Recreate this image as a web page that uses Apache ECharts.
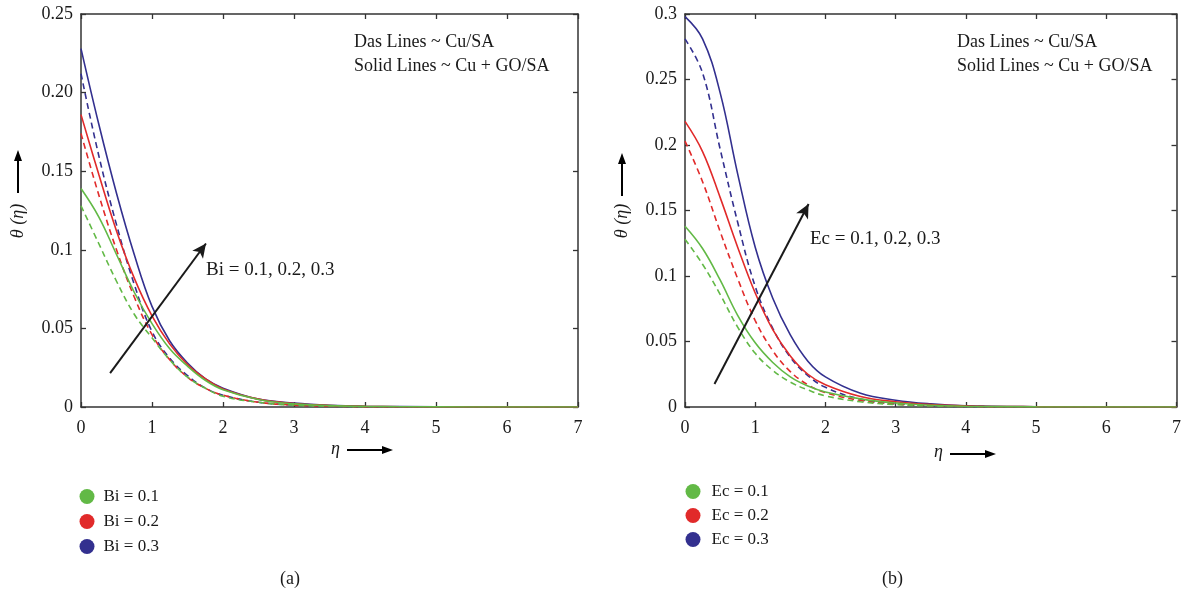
<!DOCTYPE html>
<html><head><meta charset="utf-8">
<script src="https://cdn.jsdelivr.net/npm/echarts@6/dist/echarts.min.js"></script>
<style>html,body{margin:0;padding:0;background:#fff}#c{width:1184px;height:594px}</style>
</head><body><div id="c"></div>
<script>
const eta = [0, 0.25, 0.5, 0.75, 1.0, 1.25, 1.5, 1.75, 2, 2.5, 3, 3.5, 4, 5, 6, 7];
const xTicks = ['0','1','2','3','4','5','6','7'];
const yTicksA = ['0','0.05','0.1','0.15','0.20','0.25'];
const yTicksB = ['0','0.05','0.1','0.15','0.2','0.25','0.3'];
const namesA = ['Bi = 0.1','Bi = 0.2','Bi = 0.3'];
const namesB = ['Ec = 0.1','Ec = 0.2','Ec = 0.3'];
// Panel (a): solid = Cu + GO/SA, dashed = Cu/SA
const aSolid1 = [0.139, 0.121, 0.097, 0.073, 0.053, 0.037, 0.026, 0.017, 0.011, 0.0048, 0.002, 0.0009, 0.0004, 0.0001, 0, 0];
const aSolid2 = [0.186, 0.148, 0.112, 0.082, 0.058, 0.040, 0.027, 0.018, 0.0115, 0.005, 0.0022, 0.001, 0.0004, 0.0001, 0, 0];
const aSolid3 = [0.228, 0.180, 0.136, 0.097, 0.064, 0.042, 0.028, 0.018, 0.012, 0.005, 0.0025, 0.0011, 0.0005, 0.0001, 0, 0];
const aDash1 = [0.128, 0.104, 0.080, 0.059, 0.044, 0.030, 0.019, 0.012, 0.0068, 0.003, 0.0012, 0.0005, 0.0002, 0, 0, 0];
const aDash2 = [0.174, 0.135, 0.100, 0.070, 0.046, 0.030, 0.019, 0.012, 0.0075, 0.003, 0.0012, 0.0005, 0.0002, 0, 0, 0];
const aDash3 = [0.212, 0.160, 0.116, 0.078, 0.048, 0.031, 0.020, 0.012, 0.0075, 0.003, 0.0012, 0.0005, 0.0002, 0, 0, 0];
// Panel (b)
const bSolid1 = [0.138, 0.121, 0.097, 0.070, 0.049, 0.034, 0.023, 0.016, 0.0115, 0.0062, 0.003, 0.0013, 0.0006, 0.0001, 0, 0];
const bSolid2 = [0.218, 0.195, 0.160, 0.122, 0.087, 0.059, 0.039, 0.025, 0.017, 0.008, 0.004, 0.0018, 0.0008, 0.0002, 0, 0];
const bSolid3 = [0.298, 0.281, 0.240, 0.178, 0.122, 0.083, 0.055, 0.035, 0.023, 0.0105, 0.0052, 0.0024, 0.001, 0.0002, 0, 0];
const bDash1 = [0.128, 0.109, 0.086, 0.061, 0.041, 0.028, 0.019, 0.013, 0.0085, 0.004, 0.0018, 0.0008, 0.0003, 0.0001, 0, 0];
const bDash2 = [0.203, 0.172, 0.134, 0.098, 0.066, 0.043, 0.027, 0.017, 0.011, 0.005, 0.0022, 0.001, 0.0004, 0.0001, 0, 0];
const bDash3 = [0.281, 0.255, 0.197, 0.141, 0.092, 0.060, 0.038, 0.024, 0.015, 0.006, 0.0025, 0.001, 0.0004, 0.0001, 0, 0];
const colors = ['#62b946', '#e12a2a', '#33308f'];
const arrowA = [[0.41, 0.0216], [1.76, 0.104]];
const arrowB = [[0.42, 0.0176], [1.76, 0.155]];

const FONT = 'Liberation Serif';
const FS = 17;
const pair = v => v.map((y, i) => [eta[i], y]);
function mk(name, vals, color, dashed, gi, extra) {
  const s = {
    name, type: 'line', data: pair(vals), xAxisIndex: gi * 2, yAxisIndex: gi * 2,
    showSymbol: false, symbol: 'none', smooth: 0.4,
    lineStyle: { color, width: 1.6, type: dashed ? [6, 4] : 'solid' },
    itemStyle: { color }, silent: true, animation: false, z: dashed ? 2 : 3
  };
  return Object.assign(s, extra || {});
}
function arrowLine(a) {
  return { markLine: { silent: true, symbol: ['none', 'arrow'], symbolSize: [10, 14], animation: false,
    label: { show: false }, lineStyle: { color: '#1a1a1a', width: 2, type: 'solid' },
    data: [[{ coord: a[0] }, { coord: a[1] }]] } };
}
const series = [
  mk(namesA[2], aDash3, colors[2], true, 0), mk(namesA[1], aDash2, colors[1], true, 0), mk(namesA[0], aDash1, colors[0], true, 0),
  mk(namesA[2], aSolid3, colors[2], false, 0), mk(namesA[1], aSolid2, colors[1], false, 0), mk(namesA[0], aSolid1, colors[0], false, 0, arrowLine(arrowA)),
  mk(namesB[2], bDash3, colors[2], true, 1), mk(namesB[1], bDash2, colors[1], true, 1), mk(namesB[0], bDash1, colors[0], true, 1),
  mk(namesB[2], bSolid3, colors[2], false, 1), mk(namesB[1], bSolid2, colors[1], false, 1), mk(namesB[0], bSolid1, colors[0], false, 1, arrowLine(arrowB))
];
const axLine = { show: true, onZero: false, lineStyle: { color: '#333', width: 1.5 } };
const tick = { show: true, inside: true, length: 5, lineStyle: { color: '#333', width: 1.3 } };
const lbl = { color: '#1a1a1a', fontFamily: FONT, fontSize: 18 };
function xAx(gi, top) {
  return { type: 'value', gridIndex: gi, min: 0, max: 7, interval: 1, position: top ? 'top' : 'bottom',
    axisLine: axLine, axisTick: tick, splitLine: { show: false },
    axisLabel: top ? { show: false } : Object.assign({ margin: 12, formatter: v => xTicks[Math.round(v)] }, lbl) };
}
function yAx(gi, right, max, labels) {
  return { type: 'value', gridIndex: gi, min: 0, max, interval: 0.05, position: right ? 'right' : 'left',
    axisLine: axLine, axisTick: tick, splitLine: { show: false },
    axisLabel: right ? { show: false } : Object.assign({ margin: 8, formatter: v => labels[Math.round(v / 0.05)] }, lbl) };
}
const txt = (x, y, text, extra) => ({ type: 'text', left: x, top: y, silent: true,
  style: Object.assign({ text, font: '18px "' + FONT + '"', fill: '#1a1a1a' }, extra || {}) });
const arrowH = (x1, x2, y) => [
  { type: 'line', silent: true, shape: { x1, y1: y, x2: x2 - 8, y2: y }, style: { stroke: '#000', lineWidth: 2 } },
  { type: 'polygon', silent: true, shape: { points: [[x2, y], [x2 - 11, y - 4], [x2 - 11, y + 4]] }, style: { fill: '#000' } }
];
const arrowV = (x, y1, y2) => [
  { type: 'line', silent: true, shape: { x1: x, y1, x2: x, y2: y2 + 8 }, style: { stroke: '#000', lineWidth: 2 } },
  { type: 'polygon', silent: true, shape: { points: [[x, y2], [x - 4, y2 + 11], [x + 4, y2 + 11]] }, style: { fill: '#000' } }
];
const ylabel = (x, y) => ({ type: 'text', x, y, rotation: Math.PI / 2, silent: true,
  style: { text: 'θ (η)', font: 'italic 18px "' + FONT + '"', fill: '#1a1a1a', align: 'center', verticalAlign: 'middle' } });
const graphic = [
  txt(354, 33, 'Das Lines ~ Cu/SA'), txt(354, 57, 'Solid Lines ~ Cu + GO/SA'),
  txt(957, 33, 'Das Lines ~ Cu/SA'), txt(957, 57, 'Solid Lines ~ Cu + GO/SA'),
  txt(206, 261, 'Bi = 0.1, 0.2, 0.3', { font: '19px "' + FONT + '"' }), txt(810, 230, 'Ec = 0.1, 0.2, 0.3', { font: '19px "' + FONT + '"' }),
  txt(331, 440, 'η', { font: 'italic 18px "' + FONT + '"' }), ...arrowH(347, 393, 450),
  txt(934, 443, 'η', { font: 'italic 18px "' + FONT + '"' }), ...arrowH(950, 996, 454),
  ylabel(18, 221), ...arrowV(18, 193, 150),
  ylabel(622, 221), ...arrowV(622, 196, 153),
  txt(280, 570, '(a)'), txt(882, 570, '(b)')
];
const legendBase = { orient: 'vertical', icon: 'circle', itemWidth: 15, itemHeight: 15, selectedMode: false };
const option = {
  backgroundColor: '#fff', animation: false,
  grid: [{ left: 81, right: 606, top: 14, bottom: 187 }, { left: 685, right: 2, top: 14, bottom: 187 }],
  xAxis: [xAx(0, false), xAx(0, true), xAx(1, false), xAx(1, true)],
  yAxis: [yAx(0, false, 0.25, yTicksA), yAx(0, true, 0.25, yTicksA), yAx(1, false, 0.3, yTicksB), yAx(1, true, 0.3, yTicksB)],
  legend: [
    Object.assign({ left: 74.5, top: 483, itemGap: 8, data: namesA,
      textStyle: { color: '#1a1a1a', fontFamily: FONT, fontSize: FS, padding: [0, 0, 0, 4] } }, legendBase),
    Object.assign({ left: 680.5, top: 478, itemGap: 7, data: namesB,
      textStyle: { color: '#1a1a1a', fontFamily: FONT, fontSize: FS, padding: [0, 0, 0, 6] } }, legendBase)
  ],
  series, graphic
};
echarts.init(document.getElementById('c'), null, { renderer: 'canvas' }).setOption(option);
</script></body></html>
